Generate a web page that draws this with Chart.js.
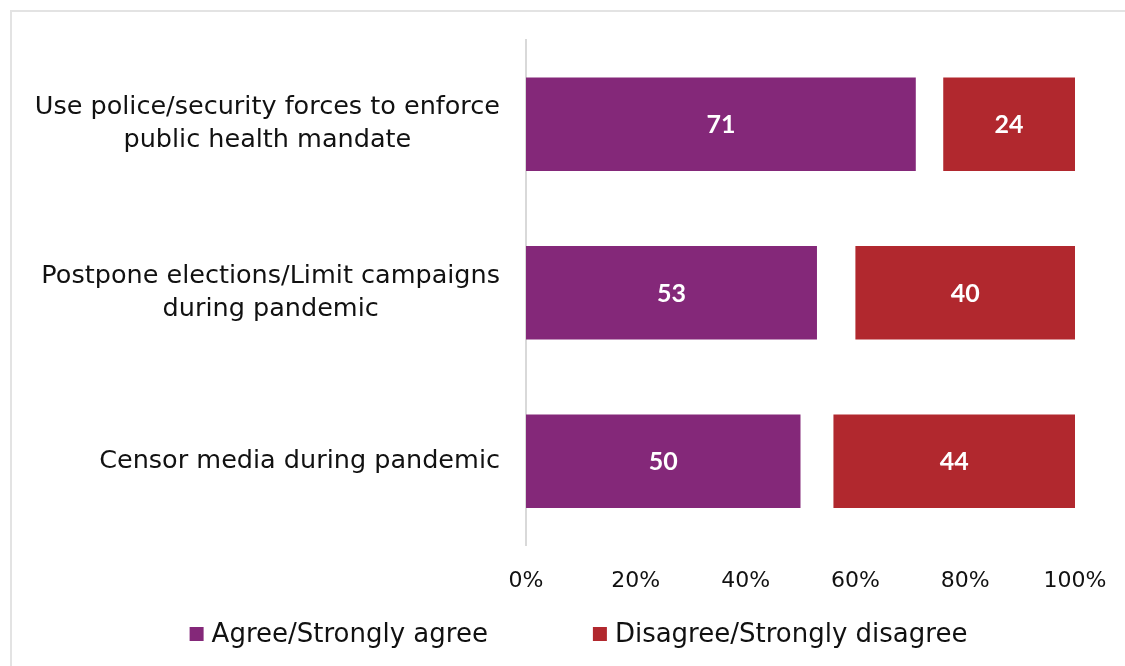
<title>Public support for pandemic measures</title>
<script src="https://cdn.jsdelivr.net/npm/chart.js@4/dist/chart.umd.min.js"></script>
<style>
body{margin:0;background:#fff;overflow:hidden}
#wrap{position:relative;width:1125px;height:666px}
#frame{position:absolute;left:10px;top:10px;width:1200px;height:700px;border:2px solid #e3e3e3;box-sizing:border-box}
canvas{position:absolute;left:0;top:0}
</style>
<div id="wrap"><div id="frame"></div><canvas id="myChart" width="1125" height="666"></canvas></div>
<script>
var categories = [
  ['Use police/security forces to enforce', 'public health mandate'],
  ['Postpone elections/Limit campaigns', 'during pandemic'],
  ['Censor media during pandemic']
];
var agree = [71, 53, 50];
var noAnswer = [5, 7, 6];
var disagree = [24, 40, 44];
var xTicks = [0, 20, 40, 60, 80, 100];

var labelFont = '"DejaVu Sans", sans-serif';

var drawText = {
  id: 'drawText',
  afterDraw: function(chart){
    var ctx = chart.ctx, y = chart.scales.y;
    ctx.save();
    // category labels: block right aligned, lines centred within it
    ctx.font = '25.5px ' + labelFont;
    ctx.fillStyle = '#111';
    ctx.textBaseline = 'middle';
    ctx.textAlign = 'center';
    chart.data.labels.forEach(function(lines, i){
      var w = 0;
      lines.forEach(function(l){ w = Math.max(w, ctx.measureText(l).width); });
      var cx = y.right - 26 - w / 2;
      var cy = y.getPixelForValue(i) - (lines.length - 1) * 33 / 2;
      lines.forEach(function(l, k){ ctx.fillText(l, cx, cy + k * 33); });
    });
    // value labels
    ctx.font = 'bold 25px Lato, sans-serif';
    ctx.fillStyle = '#fff';
    [0, 2].forEach(function(di){
      chart.getDatasetMeta(di).data.forEach(function(bar, i){
        var p = bar.getCenterPoint();
        ctx.fillText(chart.data.datasets[di].data[i], p.x, p.y + 1);
      });
    });
    // legend
    ctx.font = '26px ' + labelFont;
    ctx.textAlign = 'left';
    var items = [0, 2].map(function(di){ return chart.data.datasets[di]; });
    var gap = 105, box = 14, total = 0;
    items.forEach(function(d, k){ total += box + 8 + ctx.measureText(d.label).width + (k ? gap : 0); });
    var x = chart.width / 2 - total / 2 + 16, ly = 634;
    items.forEach(function(d){
      ctx.fillStyle = d.backgroundColor;
      ctx.fillRect(x, ly - 7, box, box);
      ctx.fillStyle = '#111';
      ctx.fillText(d.label, x + box + 8, ly + 1);
      x += box + 8 + ctx.measureText(d.label).width + gap;
    });
    ctx.restore();
  }
};

new Chart(document.getElementById('myChart'), {
  type: 'bar',
  data: {
    labels: categories,
    datasets: [
      {label: 'Agree/Strongly agree', data: agree, backgroundColor: '#842879'},
      {label: 'No answer', data: noAnswer, backgroundColor: 'rgba(0,0,0,0)'},
      {label: 'Disagree/Strongly disagree', data: disagree, backgroundColor: '#b1282e'}
    ]
  },
  options: {
    indexAxis: 'y',
    responsive: false,
    animation: false,
    categoryPercentage: 1,
    barPercentage: 0.555,
    layout: {padding: {top: 40, right: 50, bottom: 50, left: 0}},
    plugins: {legend: {display: false}, tooltip: {enabled: false}},
    scales: {
      x: {
        stacked: true, min: 0, max: 100,
        afterBuildTicks: function(s){ s.ticks = xTicks.map(function(v){ return {value: v}; }); },
        afterFit: function(s){ s.paddingRight = 0; s.paddingLeft = 0; },
        grid: {display: false, drawTicks: false},
        border: {display: false},
        ticks: {padding: 22, color: '#111', font: {family: labelFont, size: 22},
          callback: function(v){ return v + '%'; }}
      },
      y: {
        stacked: true,
        afterFit: function(s){ s.width = 526; },
        grid: {display: false, drawTicks: false},
        border: {display: true, color: '#d9d9d9', width: 2},
        ticks: {display: false}
      }
    }
  },
  plugins: [drawText]
});
</script>
